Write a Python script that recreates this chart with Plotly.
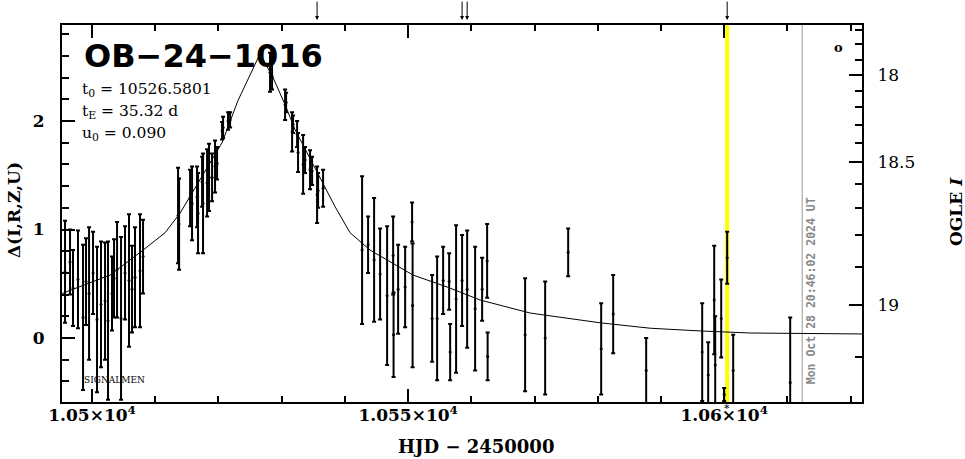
import plotly.graph_objects as go

# ---- data ----
t_obs = [10495.73, 10496.52, 10496.99, 10497.78, 10498.58, 10499.05, 10499.53, 10500.16, 10500.79, 10501.42,
         10502.06, 10502.53, 10503.16, 10503.48, 10503.96, 10504.59, 10505.22, 10505.85, 10506.33, 10506.80,
         10507.59, 10508.07,
         10513.61, 10513.77, 10515.51, 10515.82, 10516.61, 10516.77, 10517.41, 10517.56, 10518.20, 10518.51,
         10518.99, 10519.46, 10519.78, 10520.57, 10520.73, 10521.52, 10521.84,
         10528.16, 10528.48, 10530.54, 10530.70, 10531.65, 10531.80, 10532.44, 10532.59, 10533.39, 10533.70,
         10534.49, 10534.81, 10535.60, 10535.76, 10536.55,
         10542.72, 10543.67, 10544.62, 10545.57, 10546.68, 10547.63, 10547.70, 10548.42, 10549.53, 10550.63,
         10550.71, 10553.80, 10554.59, 10555.54, 10556.49, 10556.65, 10557.59, 10558.54, 10559.34, 10560.60,
         10561.71, 10562.50, 10562.58, 10568.51,
         10571.68, 10575.32, 10580.54, 10582.44, 10587.66, 10596.52, 10597.47, 10598.42, 10598.58, 10599.53,
         10600.00, 10600.47, 10601.42, 10610.44]
delta_obs = [0.61, 0.70, 0.46, 0.54, 0.19, 0.52, 0.41, 0.60, 0.17, 0.31,
             0.34, 0.16, 0.41, 0.55, 0.63, 0.18, 0.60, 0.53, 0.45, 0.56,
             0.62, 0.75,
             1.13, 1.05, 1.29, 1.24, 1.30, 1.15, 1.44, 1.24, 1.43, 1.48,
             1.48, 1.58, 1.61, 1.91, 1.94, 2.00, 2.01,
             2.45, 2.41, 2.15, 2.17, 1.90, 1.97, 1.88, 1.71, 1.60, 1.64,
             1.55, 1.54, 1.32, 1.36, 1.38,
             0.81, 0.86, 0.72, 0.59, 0.39, 0.76, 0.03, 0.45, 0.47, 1.07,
             0.30, 0.18, 0.18, 0.53, 0.52, -0.13, 0.36, 0.53, 0.45, 0.27,
             0.45, 0.71, -0.17, 0.03,
             0.00, 0.79, -0.10, 0.22, -0.30, -0.13, -0.34, 0.35, -0.25, 0.18,
             -0.52, 0.74, -0.30, -0.41]
err_obs = [0.47, 0.30, 0.35, 0.45, 0.67, 0.40, 0.61, 0.38, 0.67, 0.58,
           0.54, 0.73, 0.34, 0.36, 0.44, 0.75, 0.43, 0.61, 0.40, 0.46,
           0.52, 0.34,
           0.44, 0.42, 0.26, 0.34, 0.28, 0.37, 0.23, 0.46, 0.31, 0.31,
           0.22, 0.24, 0.15, 0.08, 0.10, 0.08, 0.07,
           0.18, 0.12, 0.14, 0.09, 0.18, 0.08, 0.12, 0.18, 0.27, 0.12,
           0.18, 0.13, 0.26, 0.16, 0.17,
           0.68, 0.26, 0.57, 0.42, 0.64, 0.36, 0.39, 0.41, 0.37, 0.18,
           0.57, 0.40, 0.57, 0.31, 0.26, 0.26, 0.68, 0.42, 0.54, 0.57,
           0.29, 0.34, 0.22, 0.52,
           0.52, 0.22, 0.42, 0.36, 0.30, 0.45, 0.30, 0.50, 0.45, 0.36,
           0.06, 0.24, 0.33, 0.60]

t_model = [10495.25, 10502.85, 10508.07, 10511.55, 10513.92, 10517.09, 10520.57, 10523.10, 10526.58,
           10528.64, 10530.54, 10532.12, 10534.18, 10536.39, 10538.45, 10540.82, 10543.99, 10550.79,
           10556.17, 10561.39, 10569.30, 10580.38, 10588.29, 10596.20, 10604.11, 10621.80]
d_model = [0.41, 0.58, 0.81, 0.97, 1.15, 1.46, 1.80, 2.19, 2.62,
           2.40, 2.15, 1.92, 1.69, 1.43, 1.21, 0.97, 0.81, 0.58,
           0.47, 0.35, 0.23, 0.14, 0.09, 0.065, 0.046, 0.037]

x_tickvals = [10500, 10550, 10600]
x_ticktext = ["1.05×10<sup>4</sup>", "1.055×10<sup>4</sup>", "1.06×10<sup>4</sup>"]
y_tickvals = [0, 1, 2]
y_ticktext = ["0", "1", "2"]
# OGLE I magnitude ticks placed on the Delta scale
mag_major_pos = [2.424, 1.622, 0.304]
mag_major_txt = ["18", "18.5", "19"]
mag_minor_pos = [2.839, 2.710, 2.562, 2.276, 2.129, 1.963, 1.797, 1.419, 1.198, 0.949, 0.654, -0.175]

arrow_times = [10535.60, 10558.54, 10559.34, 10600.47]
t_now = 10600.47
t_date = 10612.34

X_RANGE = [10495.25, 10621.8]
Y_RANGE = [-0.59, 2.885]

SERIF = "DejaVu Serif"

fig = go.Figure()
fig.add_trace(go.Scatter(x=t_model, y=d_model, mode="lines",
                         line=dict(color="black", width=1), hoverinfo="skip", showlegend=False))
fig.add_trace(go.Scatter(x=t_obs, y=delta_obs, mode="markers",
                         marker=dict(color="black", size=3),
                         error_y=dict(type="data", array=err_obs, color="black", thickness=2, width=2),
                         showlegend=False))
fig.add_trace(go.Scatter(x=[t_now], y=[0], yaxis="y2", mode="markers",
                         marker=dict(opacity=0), hoverinfo="skip", showlegend=False))

fig.add_shape(type="line", x0=t_now, x1=t_now, y0=0, y1=1, yref="paper",
              line=dict(color="#ffff00", width=4), layer="below")
fig.add_shape(type="line", x0=t_date, x1=t_date, y0=0, y1=1, yref="paper",
              line=dict(color="#999999", width=1), layer="below")

ann = []
for t in arrow_times:
    ann.append(dict(x=t, y=1.013, xref="x", yref="paper", text="", showarrow=True,
                    ax=0, ay=-20, arrowhead=2, arrowsize=0.8, arrowwidth=1, arrowcolor="black"))
ann.append(dict(x=0.025, y=0.918, xref="paper", yref="paper", text="OB−24−1016", showarrow=False,
                xanchor="left", yanchor="middle",
                font=dict(family="DejaVu Sans", size=32, color="black", weight="bold")))
for yy, txt in [(0.828, "t<sub>0</sub> = 10526.5801"), (0.770, "t<sub>E</sub> = 35.32 d"),
                (0.711, "u<sub>0</sub> = 0.090")]:
    ann.append(dict(x=0.0225, y=yy, xref="paper", yref="paper", text=txt, showarrow=False,
                    xanchor="left", yanchor="middle", font=dict(family=SERIF, size=15.5, color="black")))
ann.append(dict(x=0.025, y=0.058, xref="paper", yref="paper", text="SIGNALMEN", showarrow=False,
                xanchor="left", yanchor="middle", font=dict(family=SERIF, size=9, color="black")))
ann.append(dict(x=-0.06, y=0.509, xref="paper", yref="paper", text="Δ(I,R,Z,U)", showarrow=False,
                xanchor="center", yanchor="middle", textangle=-90,
                font=dict(family=SERIF, size=17, color="black", weight="bold")))
ann.append(dict(x=1.1175, y=0.504, xref="paper", yref="paper", text="OGLE <i>I</i>", showarrow=False,
                xanchor="center", yanchor="middle", textangle=-90,
                font=dict(family=SERIF, size=17, color="black", weight="bold")))
ann.append(dict(x=0.5175, y=-0.119, xref="paper", yref="paper", text="HJD − 2450000", showarrow=False,
                xanchor="center", yanchor="middle",
                font=dict(family=SERIF, size=18, color="black", weight="bold")))
ann.append(dict(x=10613.77, y=0.433, xref="x", yref="y", text="Mon Oct 28 20:46:02 2024 UT", showarrow=False,
                xanchor="center", yanchor="middle", textangle=-90,
                font=dict(family="DejaVu Sans Mono", size=11.5, color="#888888", weight="bold")))
ann.append(dict(x=10618.04, y=2.68, xref="x", yref="y", text="o", showarrow=False,
                xanchor="center", yanchor="middle",
                font=dict(family=SERIF, size=13, color="black", weight="bold")))
ann.append(dict(x=t_now, y=-0.018, xref="x", yref="paper", text="*", showarrow=False,
                xanchor="center", yanchor="middle",
                font=dict(family=SERIF, size=11, color="black")))

fig.update_layout(
    width=965, height=459,
    margin=dict(l=62, r=103, t=25, b=57),
    paper_bgcolor="white", plot_bgcolor="white",
    annotations=ann,
    xaxis=dict(range=X_RANGE, showgrid=False, zeroline=False, showline=True, linecolor="black", linewidth=2,
               mirror="ticks", ticks="inside", ticklen=13, tickwidth=2, tickcolor="black",
               tickmode="array", tickvals=x_tickvals, ticktext=x_ticktext,
               tickfont=dict(family=SERIF, size=17, color="black", weight="bold"), ticklabelstandoff=-3,
               minor=dict(ticks="inside", dtick=10, tick0=10500, ticklen=6, tickwidth=2, tickcolor="black")),
    yaxis=dict(range=Y_RANGE, showgrid=False, zeroline=False, showline=True, linecolor="black", linewidth=2,
               ticks="inside", ticklen=13, tickwidth=2, tickcolor="black",
               tickmode="array", tickvals=y_tickvals, ticktext=y_ticktext,
               tickfont=dict(family=SERIF, size=17, color="black", weight="bold"), ticklabelstandoff=12,
               minor=dict(ticks="inside", dtick=0.2, tick0=0, ticklen=7, tickwidth=2, tickcolor="black")),
    yaxis2=dict(range=Y_RANGE, overlaying="y", side="right", showgrid=False, zeroline=False, showline=True,
                linecolor="black", linewidth=2, ticks="inside", ticklen=13, tickwidth=2, tickcolor="black",
                tickmode="array", tickvals=mag_major_pos, ticktext=mag_major_txt,
                tickfont=dict(family=SERIF, size=17, color="black"), ticklabelstandoff=10,
                minor=dict(ticks="inside", tickmode="array", tickvals=mag_minor_pos, ticklen=7, tickwidth=2,
                           tickcolor="black")),
)

fig.write_html("out.html", config={"displayModeBar": False},
               post_script="document.body.style.margin='0';")
